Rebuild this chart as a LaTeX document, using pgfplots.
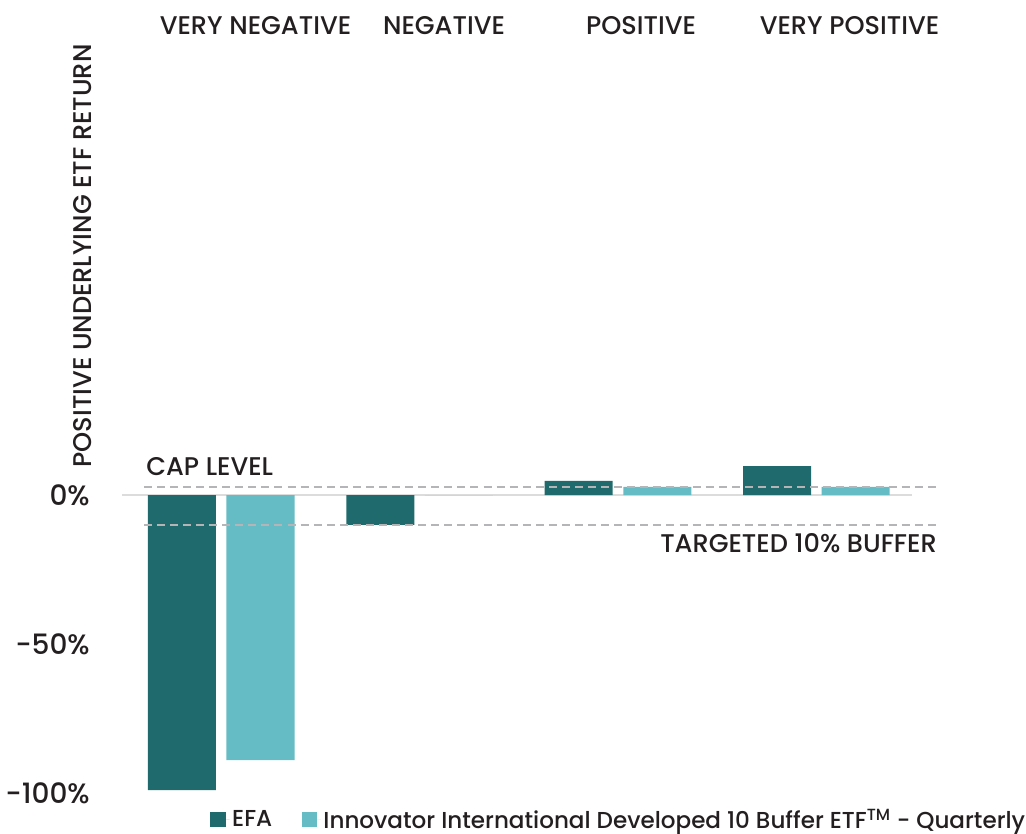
\documentclass[border=0pt]{standalone}
\usepackage{fontspec}
\setmainfont{Poppins}[UprightFont={* Medium}]
\usepackage{pgfplots}
\pgfplotsset{compat=1.18}
\definecolor{dteal}{HTML}{1E6A6D}
\definecolor{lteal}{HTML}{65BCC4}
\definecolor{txt}{HTML}{231F20}
\definecolor{dashc}{HTML}{B5B5B8}
\definecolor{zline}{HTML}{DCDCDC}
\newcommand{\lbl}{\fontsize{19.2}{22}\selectfont}
\newcommand{\tlbl}{\fontsize{21}{24}\selectfont}
\newcommand{\leglbl}{\fontsize{17.3}{20}\selectfont}
\begin{document}
\begin{tikzpicture}[x=0.75pt,y=0.75pt]
\useasboundingbox (0,0) rectangle (1026,833);
\begin{axis}[
  at={(91.5pt,30pt)}, anchor=south west,
  scale only axis, width=595.2pt, height=290.55pt,
  xmin=-0.5, xmax=3.5, ymin=-100, ymax=30,
  axis line style={draw=none},
  xtick=\empty,
  ytick={-100,-50,0},
  yticklabels={-100\%,-50\%,0\%},
  major tick length=0pt,
  yticklabel style={anchor=east, inner sep=0pt, xshift=-24pt, font=\tlbl, text=txt},
  clip=false,
  legend style={draw=none, fill=none, inner sep=0pt, at={(0.111,-0.069)}, anchor=west,
    legend columns=2, font=\leglbl, text=txt,
    /tikz/every even column/.append style={column sep=20pt}},
  legend cell align=left,
]
\addplot[draw=zline, line width=1.5pt, forget plot] coordinates {(-0.5,0) (3.48,0)};
\addplot[ybar, bar width=0.343, bar shift=-0.198, fill=dteal, draw=none,
  area legend, legend image code/.code={\fill[dteal] (0pt,-5.6pt) rectangle (11.4pt,5.6pt); \path (0pt,0pt) -- (14.4pt,0pt);}]
  coordinates {(0,-99) (1,-10) (2,4.7) (3,9.7)};
\addlegendentry{EFA}
\addplot[ybar, bar width=0.343, bar shift=0.198, fill=lteal, draw=none,
  area legend, legend image code/.code={\fill[lteal] (0pt,-5.6pt) rectangle (11.4pt,5.6pt); \path (0pt,0pt) -- (14.4pt,0pt);}]
  coordinates {(0,-89) (1,0) (2,2.7) (3,2.7)};
\addlegendentry{Innovator International Developed 10 Buffer ETF\textsuperscript{TM} - Quarterly}
\addplot[draw=dashc, line width=1.4pt, dash pattern=on 6pt off 3.8pt, forget plot] coordinates {(-0.39,2.8) (3.61,2.8)};
\addplot[draw=dashc, line width=1.4pt, dash pattern=on 6pt off 3.8pt, forget plot] coordinates {(-0.39,-10) (3.61,-10)};
\end{axis}
\begin{scope}[every node/.style={font=\lbl, text=txt, inner sep=0pt}]
\node[anchor=base] at (255.5,{833-35}) {VERY NEGATIVE};
\node[anchor=base] at (444,{833-35}) {NEGATIVE};
\node[anchor=base] at (641,{833-35}) {POSITIVE};
\node[anchor=base] at (849.5,{833-35}) {VERY POSITIVE};
\node[anchor=base, rotate=90] at (91.7,{833-256}) {POSITIVE UNDERLYING ETF RETURN};
\node[anchor=base west] at (146,{833-476}) {CAP LEVEL};
\node[anchor=base east] at (937,{833-552.7}) {TARGETED 10\% BUFFER};
\end{scope}
\end{tikzpicture}
\end{document}
